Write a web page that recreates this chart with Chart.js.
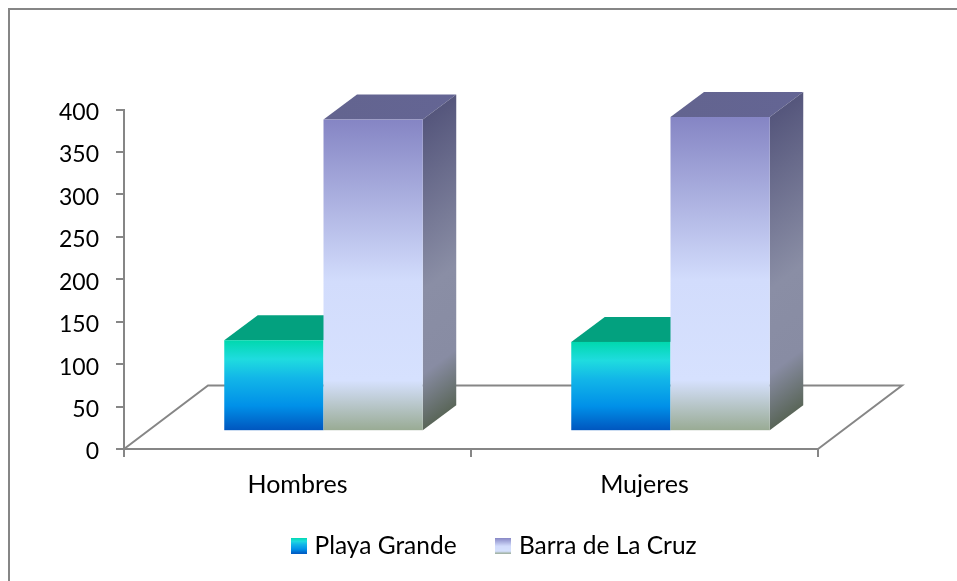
<!DOCTYPE html>
<html>
<head>
<meta charset="utf-8">
<script src="https://cdn.jsdelivr.net/npm/chart.js@4"></script>
<style>
  html, body { margin: 0; background: #fff; overflow: hidden; }
  #wrap { position: absolute; left: 0; top: 0; width: 957px; height: 581px; }
</style>
</head>
<body>
<div id="wrap"><canvas id="grafico"></canvas></div>
<script>
const categorias = ['Hombres', 'Mujeres'];
const playaGrande = [106, 104];
const barraCruz = [366, 369];
const nombresSeries = ['Playa Grande', 'Barra de La Cruz'];
const maxEje = 400;
const pasoEje = 50;

const colorEje = '#868686';
const fuente = 'Lato, Carlito, sans-serif';

// profundidad del piso y de las barras (px)
const pisoDx = 84, pisoDy = 63.5;
const barraDx = 33.5, barraDy = 25;
// las barras se paran dentro del piso, no sobre el eje
const corrimientoX = 26, corrimientoY = 18.8;

const paradasPlaya = [[0, '#00d8ae'], [0.21, '#1fdcdf'], [0.42, '#12b6e8'], [0.73, '#0090e8'], [1, '#0056bf']];
const paradasBarra = [[0, '#8585c4'], [0.52, '#d2dcfc'], [0.84, '#d6e1fe'], [1, '#99ab94']];
const paradasLado = [[0, '#55567c'], [0.55, '#8a8ea5'], [0.82, '#888ca3'], [1, '#5a6659']];

function degradado(ctx, y0, y1, paradas) {
  const g = ctx.createLinearGradient(0, y0, 0, y1);
  paradas.forEach(p => g.addColorStop(p[0], p[1]));
  return g;
}

// muestra cuadrada para la leyenda
function muestra(paradas) {
  const c = document.createElement('canvas');
  c.width = 16; c.height = 16;
  const cx = c.getContext('2d');
  cx.fillStyle = degradado(cx, 0, 16, paradas);
  cx.fillRect(0, 0, 16, 16);
  return c;
}

function dibujarBarra(ctx, barra, base, paradas, colorTecho, conLado) {
  const ancho = barra.width;
  const x0 = barra.x - ancho / 2 + corrimientoX;
  const x1 = x0 + ancho;
  const yArriba = barra.y - corrimientoY;
  const yAbajo = base - corrimientoY;

  // techo
  const techo = ctx.createLinearGradient(x0, 0, x1 + barraDx, 0);
  techo.addColorStop(0, colorTecho[0]);
  techo.addColorStop(1, colorTecho[1]);
  ctx.fillStyle = techo;
  ctx.beginPath();
  ctx.moveTo(x0, yArriba);
  ctx.lineTo(x0 + barraDx, yArriba - barraDy);
  ctx.lineTo(x1 + barraDx, yArriba - barraDy);
  ctx.lineTo(x1, yArriba);
  ctx.closePath();
  ctx.fill();

  // lado derecho, el degradado se inclina con la cara
  if (conLado) {
    ctx.save();
    ctx.transform(1, -barraDy / barraDx, 0, 1, x1, yArriba);
    ctx.fillStyle = degradado(ctx, 0, yAbajo - yArriba, paradasLado);
    ctx.fillRect(0, 0, barraDx, yAbajo - yArriba);
    ctx.restore();
  }

  // frente
  ctx.fillStyle = degradado(ctx, yArriba, yAbajo, paradas);
  ctx.fillRect(x0, yArriba, ancho, yAbajo - yArriba);
}

const vista3d = {
  id: 'vista3d',
  afterLayout(chart) {
    // la leyenda va centrada sobre el marco, no sobre el canvas
    chart.legend.left += 87;
    chart.legend.right += 87;
    chart.legend.top -= 12.5;
    chart.legend.bottom -= 12.5;
  },
  beforeDraw(chart) {
    // las etiquetas del eje y quedan un poco mas abajo que la marca
    chart.scales.y.getLabelItems().forEach(it => { it.options.translation[1] += 3; });

    // marco: solo se ven el borde superior e izquierdo
    const ctx = chart.ctx;
    ctx.save();
    ctx.strokeStyle = colorEje;
    ctx.lineWidth = 2;
    ctx.beginPath();
    ctx.moveTo(9, chart.height);
    ctx.lineTo(9, 9);
    ctx.lineTo(chart.width, 9);
    ctx.stroke();
    ctx.restore();
  },
  beforeDatasetsDraw(chart) {
    const ctx = chart.ctx;
    const a = chart.chartArea;
    ctx.save();
    ctx.strokeStyle = colorEje;
    ctx.lineWidth = 2;
    ctx.beginPath();
    ctx.moveTo(a.left, a.bottom);
    ctx.lineTo(a.left + pisoDx, a.bottom - pisoDy);
    ctx.lineTo(a.right + pisoDx, a.bottom - pisoDy);
    ctx.lineTo(a.right, a.bottom);
    ctx.stroke();
    ctx.restore();
  },
  afterDatasetsDraw(chart) {
    const ctx = chart.ctx;
    const base = chart.scales.y.getPixelForValue(0);
    const m0 = chart.getDatasetMeta(0).data;
    const m1 = chart.getDatasetMeta(1).data;
    m0.forEach((barra, i) => {
      dibujarBarra(ctx, barra, base, paradasPlaya, ['#03a17f', '#03a17f'], false);
      dibujarBarra(ctx, m1[i], base, paradasBarra, ['#63648f', '#646594'], true);
    });
  }
};

new Chart(document.getElementById('grafico'), {
  type: 'bar',
  data: {
    labels: categorias,
    datasets: [
      { label: nombresSeries[0], data: playaGrande, backgroundColor: 'rgba(0,0,0,0)', pointStyle: muestra(paradasPlaya) },
      { label: nombresSeries[1], data: barraCruz, backgroundColor: 'rgba(0,0,0,0)', pointStyle: muestra(paradasBarra) }
    ]
  },
  plugins: [vista3d],
  options: {
    responsive: true,
    maintainAspectRatio: false,
    animation: false,
    devicePixelRatio: 1,
    layout: { padding: { left: 0, right: 139, top: 109.5, bottom: 0.5 } },
    datasets: { bar: { categoryPercentage: 0.572, barPercentage: 1 } },
    scales: {
      x: {
        afterFit(escala) { escala.height = 54; },
        grid: { drawOnChartArea: false, color: colorEje, lineWidth: 2, tickLength: 8, offset: true },
        border: { color: colorEje, width: 2 },
        ticks: { color: '#000', padding: 13, font: { family: fuente, size: 25 } }
      },
      y: {
        min: 0,
        max: maxEje,
        afterFit(escala) { escala.width = 124; },
        grid: { drawOnChartArea: false, color: colorEje, lineWidth: 2, tickLength: 8 },
        border: { color: colorEje, width: 2 },
        ticks: { stepSize: pasoEje, color: '#000', padding: 17, font: { family: fuente, size: 23 } }
      }
    },
    plugins: {
      title: { display: false },
      tooltip: { enabled: false },
      legend: {
        position: 'bottom',
        labels: {
          usePointStyle: true,
          pointStyleWidth: 7,
          padding: 43,
          color: '#000',
          font: { family: fuente, size: 24.5 }
        }
      }
    }
  }
});
</script>
</body>
</html>
